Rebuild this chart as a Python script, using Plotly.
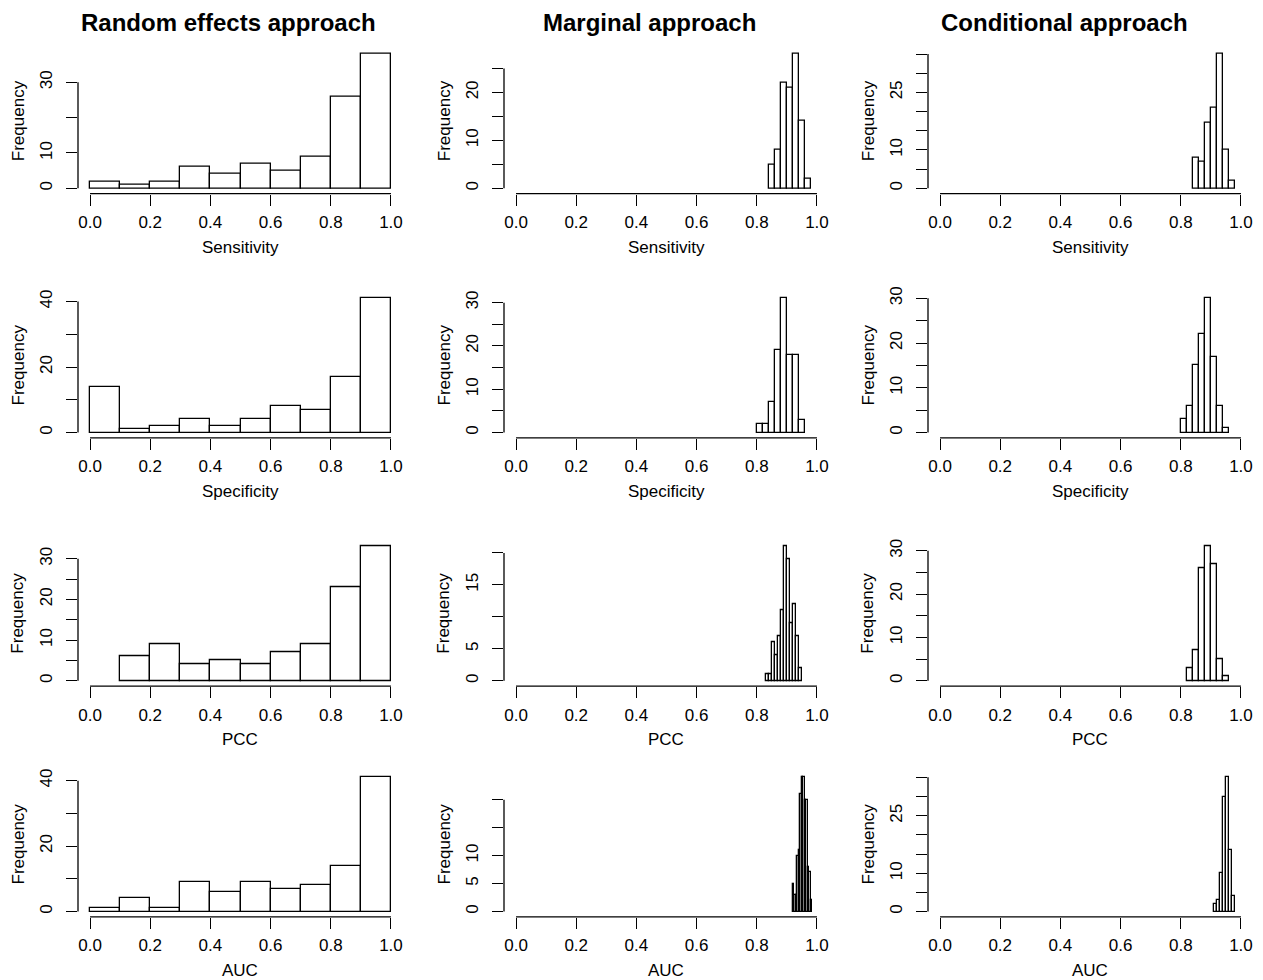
import plotly.graph_objects as go

# ---------------- data ----------------
re_edges = [0.0, 0.1, 0.2, 0.3, 0.4, 0.5, 0.6, 0.7, 0.8, 0.9, 1.0]
re_sens_counts = [2, 1, 2, 6, 4, 7, 5, 9, 26, 38]
re_spec_counts = [14, 1, 2, 4, 2, 4, 8, 7, 17, 41]
re_pcc_edges = [0.1, 0.2, 0.3, 0.4, 0.5, 0.6, 0.7, 0.8, 0.9, 1.0]
re_pcc_counts = [6, 9, 4, 5, 4, 7, 9, 23, 33]
re_auc_counts = [1, 4, 1, 9, 6, 9, 7, 8, 14, 41]

marg_sens_edges = [0.84, 0.86, 0.88, 0.90, 0.92, 0.94, 0.96, 0.98]
marg_sens_counts = [5, 8, 22, 21, 28, 14, 2]
marg_spec_edges = [0.80, 0.82, 0.84, 0.86, 0.88, 0.90, 0.92, 0.94, 0.96]
marg_spec_counts = [2, 2, 7, 19, 31, 18, 18, 3]
marg_pcc_edges = [0.83, 0.84, 0.85, 0.86, 0.87, 0.88, 0.89, 0.90, 0.91, 0.92, 0.93, 0.94, 0.95]
marg_pcc_counts = [1, 1, 6, 4, 7, 11, 21, 19, 9, 12, 7, 2]
marg_auc_edges = [0.920, 0.925, 0.930, 0.935, 0.940, 0.945, 0.950, 0.955, 0.960, 0.965, 0.970, 0.975, 0.980, 0.985]
marg_auc_counts = [5, 3, 3, 10, 11, 21, 24, 24, 20, 20, 8, 7, 2]

cond_sens_edges = [0.84, 0.86, 0.88, 0.90, 0.92, 0.94, 0.96, 0.98]
cond_sens_counts = [8, 7, 17, 21, 35, 10, 2]
cond_spec_edges = [0.80, 0.82, 0.84, 0.86, 0.88, 0.90, 0.92, 0.94, 0.96]
cond_spec_counts = [3, 6, 15, 22, 30, 17, 6, 1]
cond_pcc_edges = [0.82, 0.84, 0.86, 0.88, 0.90, 0.92, 0.94, 0.96]
cond_pcc_counts = [3, 7, 26, 31, 27, 5, 1]
cond_auc_edges = [0.91, 0.92, 0.93, 0.94, 0.95, 0.96, 0.97, 0.98]
cond_auc_counts = [2, 3, 10, 30, 35, 16, 4]

column_titles = ["Random effects approach", "Marginal approach", "Conditional approach"]
row_labels = ["Sensitivity", "Specificity", "PCC", "AUC"]
x_tick_vals = [0.0, 0.2, 0.4, 0.6, 0.8, 1.0]
x_tick_text = ["0.0", "0.2", "0.4", "0.6", "0.8", "1.0"]

# y-axis ticks: (step, last tick, labels that are printed)
y_ticks = {
    (0, 0): (10, 30, [0, 10, 30]),
    (1, 0): (10, 40, [0, 20, 40]),
    (2, 0): (5, 30, [0, 10, 20, 30]),
    (3, 0): (10, 40, [0, 20, 40]),
    (0, 1): (5, 25, [0, 10, 20]),
    (1, 1): (5, 30, [0, 10, 20, 30]),
    (2, 1): (5, 20, [0, 5, 15]),
    (3, 1): (5, 20, [0, 5, 10]),
    (0, 2): (5, 35, [0, 10, 25]),
    (1, 2): (5, 30, [0, 10, 20, 30]),
    (2, 2): (5, 30, [0, 10, 20, 30]),
    (3, 2): (5, 35, [0, 10, 25]),
}

hists = {
    (0, 0): (re_edges, re_sens_counts),
    (1, 0): (re_edges, re_spec_counts),
    (2, 0): (re_pcc_edges, re_pcc_counts),
    (3, 0): (re_edges, re_auc_counts),
    (0, 1): (marg_sens_edges, marg_sens_counts),
    (1, 1): (marg_spec_edges, marg_spec_counts),
    (2, 1): (marg_pcc_edges, marg_pcc_counts),
    (3, 1): (marg_auc_edges, marg_auc_counts),
    (0, 2): (cond_sens_edges, cond_sens_counts),
    (1, 2): (cond_spec_edges, cond_spec_counts),
    (2, 2): (cond_pcc_edges, cond_pcc_counts),
    (3, 2): (cond_auc_edges, cond_auc_counts),
}

# ---------------- layout geometry (pixels) ----------------
W, H = 1263, 980
FONT = "Liberation Sans, Arial, Helvetica, sans-serif"
FS = 17
col_left = [78, 504, 928]
col_w = 325
row_bottom = [188, 434, 684, 916.5]
row_h = 146

fig = go.Figure()
shapes = []
annotations = []

for r in range(4):
    for c in range(3):
        i = r * 3 + c + 1
        sfx = "" if i == 1 else str(i)
        xa = "x" + sfx
        ya = "y" + sfx
        edges, counts = hists[(r, c)]
        centers = [(a + b) / 2 for a, b in zip(edges[:-1], edges[1:])]
        widths = [b - a for a, b in zip(edges[:-1], edges[1:])]
        fig.add_trace(go.Bar(
            x=centers, y=counts, width=widths,
            marker=dict(color="white", line=dict(color="black", width=1.3)),
            xaxis=xa, yaxis=ya, showlegend=False, hoverinfo="x+y",
        ))
        ymax = max(counts)
        step, top, shown = y_ticks[(r, c)]
        tv = list(range(0, top + 1, step))
        tt = [str(v) if v in shown else "" for v in tv]

        x0 = col_left[c] / W
        x1 = (col_left[c] + col_w) / W
        y0 = 1 - row_bottom[r] / H
        y1 = 1 - (row_bottom[r] - row_h) / H
        fig.layout["xaxis" + sfx] = dict(
            domain=[x0, x1], anchor=ya, range=[-0.04, 1.04],
            tickvals=x_tick_vals, ticktext=x_tick_text,
            ticks="outside", ticklen=11, tickwidth=1.3, tickcolor="black",
            showline=False, showgrid=False, zeroline=False,
            tickfont=dict(family=FONT, size=FS, color="black"),
            ticklabelstandoff=2,
        )
        fig.layout["yaxis" + sfx] = dict(
            domain=[y0, y1], anchor=xa, range=[-0.04 * ymax, 1.04 * ymax],
            tickvals=tv, ticktext=tt, tickangle=-90,
            ticks="outside", ticklen=11, tickwidth=1.3, tickcolor="black",
            showline=False, showgrid=False, zeroline=False,
            tickfont=dict(family=FONT, size=FS, color="black"),
            ticklabelstandoff=7,
        )
        # R-style axis lines spanning only the tick range
        shapes.append(dict(type="line", xref=xa, yref=f"{ya} domain",
                           x0=x_tick_vals[0], x1=x_tick_vals[-1], y0=0, y1=0,
                           line=dict(color="black", width=1.3)))
        shapes.append(dict(type="line", xref=f"{xa} domain", yref=ya,
                           x0=0, x1=0, y0=tv[0], y1=tv[-1],
                           line=dict(color="black", width=1.3)))
        # axis titles
        annotations.append(dict(
            text="Frequency", textangle=-90, showarrow=False,
            xref="paper", yref="paper",
            x=(col_left[c] - 60) / W, y=1 - (row_bottom[r] - row_h / 2) / H,
            xanchor="center", yanchor="middle",
            font=dict(family=FONT, size=FS, color="black")))
        annotations.append(dict(
            text=row_labels[r], showarrow=False,
            xref="paper", yref="paper",
            x=(col_left[c] + 12 + 150) / W, y=1 - (row_bottom[r] + 54) / H,
            xanchor="center", yanchor="middle",
            font=dict(family=FONT, size=FS, color="black")))

title_x = [228, 649, 1064]
for c in range(3):
    annotations.append(dict(
        text=f"<b>{column_titles[c]}</b>", showarrow=False,
        xref="paper", yref="paper", x=title_x[c] / W, y=1 - 16 / H,
        xanchor="center", yanchor="middle",
        font=dict(family=FONT, size=24, color="black")))

fig.update_layout(
    width=W, height=H, margin=dict(l=0, r=0, t=0, b=0),
    paper_bgcolor="white", plot_bgcolor="white",
    shapes=shapes, annotations=annotations, bargap=0,
    showlegend=False,
)

fig.write_html(
    "out.html",
    config={"displayModeBar": False},
    post_script="document.body.style.margin='0px';document.body.style.overflow='hidden';",
)
